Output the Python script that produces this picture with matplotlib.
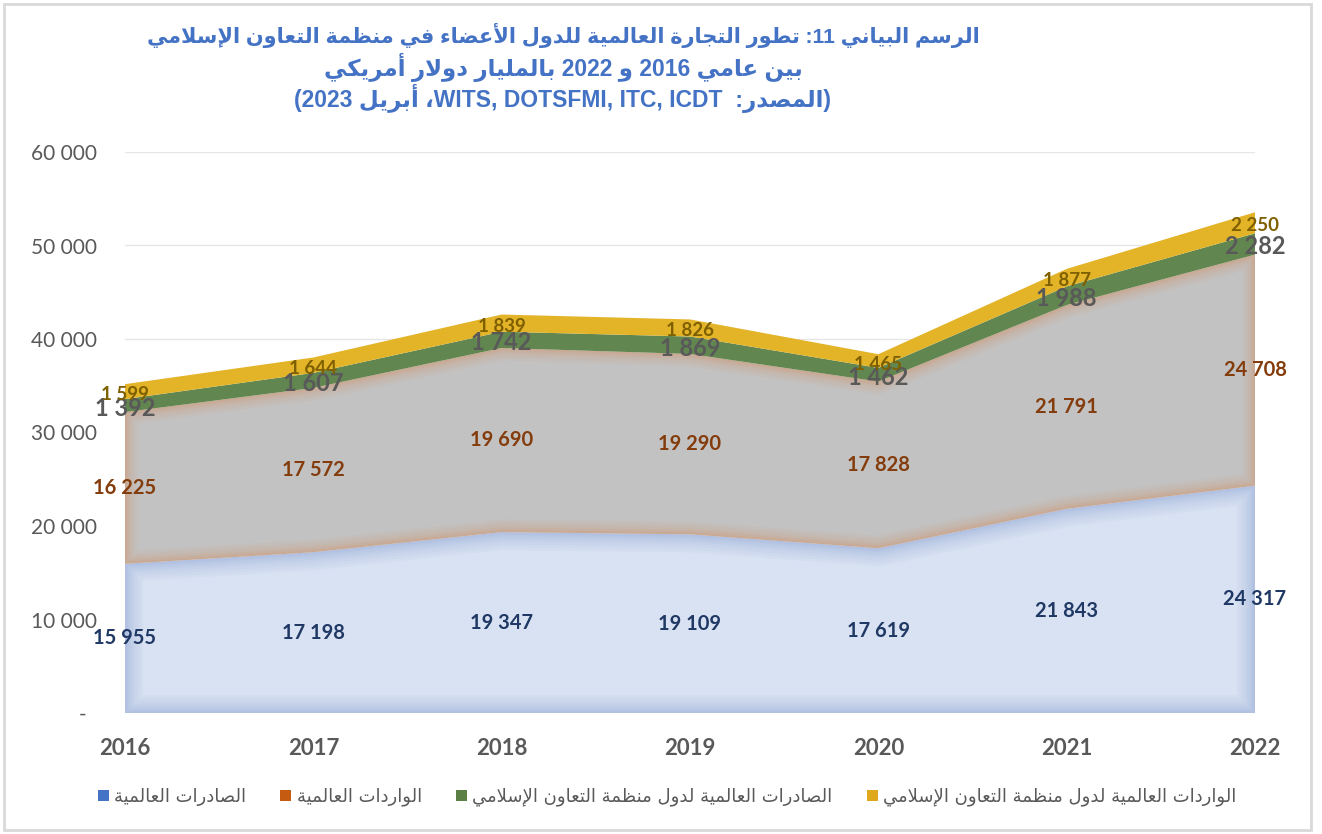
import matplotlib
matplotlib.use("Agg")
import matplotlib.pyplot as plt
from matplotlib.patches import Patch, Rectangle
from matplotlib.transforms import offset_copy
import numpy as np

# ---------------- data ----------------
years = [2016, 2017, 2018, 2019, 2020, 2021, 2022]
world_exports = [15955, 17198, 19347, 19109, 17619, 21843, 24317]
world_imports = [16225, 17572, 19690, 19290, 17828, 21791, 24708]
oic_exports = [1392, 1607, 1742, 1869, 1462, 1988, 2282]
oic_imports = [1599, 1644, 1839, 1826, 1465, 1877, 2250]
y_ticks = [0, 10000, 20000, 30000, 40000, 50000, 60000]

series_names = ["الصادرات العالمية", "الواردات العالمية",
                "الصادرات العالمية لدول منظمة التعاون الإسلامي",
                "الواردات العالمية لدول منظمة التعاون الإسلامي"]
title_lines = ["الرسم البياني 11: تطور التجارة العالمية للدول الأعضاء في منظمة التعاون الإسلامي",
               "بين عامي 2016 و 2022 بالمليار دولار أمريكي",
               "(المصدر:  WITS, DOTSFMI, ITC, ICDT، أبريل 2023)"]

# ---------------- minimal Arabic shaping + bidi ----------------
_D, _R, _U = "D", "R", "U"
FORMS = {
    "\u0621": (0xFE80, _U), "\u0622": (0xFE81, _R), "\u0623": (0xFE83, _R),
    "\u0624": (0xFE85, _R), "\u0625": (0xFE87, _R), "\u0626": (0xFE89, _D),
    "\u0627": (0xFE8D, _R), "\u0628": (0xFE8F, _D), "\u0629": (0xFE93, _R),
    "\u062A": (0xFE95, _D), "\u062B": (0xFE99, _D), "\u062C": (0xFE9D, _D),
    "\u062D": (0xFEA1, _D), "\u062E": (0xFEA5, _D), "\u062F": (0xFEA9, _R),
    "\u0630": (0xFEAB, _R), "\u0631": (0xFEAD, _R), "\u0632": (0xFEAF, _R),
    "\u0633": (0xFEB1, _D), "\u0634": (0xFEB5, _D), "\u0635": (0xFEB9, _D),
    "\u0636": (0xFEBD, _D), "\u0637": (0xFEC1, _D), "\u0638": (0xFEC5, _D),
    "\u0639": (0xFEC9, _D), "\u063A": (0xFECD, _D), "\u0641": (0xFED1, _D),
    "\u0642": (0xFED5, _D), "\u0643": (0xFED9, _D), "\u0644": (0xFEDD, _D),
    "\u0645": (0xFEE1, _D), "\u0646": (0xFEE5, _D), "\u0647": (0xFEE9, _D),
    "\u0648": (0xFEED, _R), "\u0649": (0xFEEF, _R), "\u064A": (0xFEF1, _D),
}
LAMALEF = {"\u0622": 0xFEF5, "\u0623": 0xFEF7, "\u0625": 0xFEF9, "\u0627": 0xFEFB}


def shape(s):
    out = []
    i, n = 0, len(s)
    prev_d = False
    while i < n:
        c = s[i]
        if c not in FORMS:
            out.append(c)
            prev_d = False
            i += 1
            continue
        if c == "\u0644" and i + 1 < n and s[i + 1] in LAMALEF:
            b = LAMALEF[s[i + 1]]
            out.append(chr(b + 1 if prev_d else b))
            prev_d = False
            i += 2
            continue
        b, t = FORMS[c]
        nxt = s[i + 1] if i + 1 < n else None
        next_j = t == _D and nxt in FORMS and FORMS[nxt][1] in (_D, _R)
        if t == _U:
            f = b
        elif t == _R:
            f = b + 1 if prev_d else b
        else:
            if prev_d and next_j:
                f = b + 3
            elif prev_d:
                f = b + 1
            elif next_j:
                f = b + 2
            else:
                f = b
        out.append(chr(f))
        prev_d = t == _D
        i += 1
    return "".join(out)


def visual(s):
    t = shape(s)
    cls = []
    for ch in t:
        if "\u0600" <= ch <= "\u06FF" or "\uFB50" <= ch <= "\uFEFF":
            cls.append("R")
        elif ch.isascii() and ch.isalnum():
            cls.append("L")
        else:
            cls.append("N")
    n = len(cls)
    i = 0
    while i < n:
        if cls[i] == "N":
            j = i
            while j < n and cls[j] == "N":
                j += 1
            before = cls[i - 1] if i > 0 else "R"
            after = cls[j] if j < n else "R"
            r = "L" if (before == "L" and after == "L") else "R"
            for k in range(i, j):
                cls[k] = r
            i = j
        else:
            i += 1
    runs = []
    for ch, c in zip(t, cls):
        if runs and runs[-1][0] == c:
            runs[-1][1].append(ch)
        else:
            runs.append([c, [ch]])
    mirror = {"(": ")", ")": "("}
    res = []
    for c, chars in reversed(runs):
        if c == "R":
            res.append("".join(mirror.get(x, x) for x in reversed(chars)))
        else:
            res.append("".join(chars))
    return "".join(res)


def fmt(v):
    return f"{v:,}".replace(",", " ")


# ---------------- figure ----------------
W, H = 1322, 834
fig = plt.figure(figsize=(W / 100, H / 100), dpi=100)
fig.patch.set_facecolor("white")

left_px, right_px, bottom_px, top_px = 125, 1255, 713, 152
ax = fig.add_axes([left_px / W, 1 - bottom_px / H,
                   (right_px - left_px) / W, (bottom_px - top_px) / H])
ax.set_xlim(years[0], years[-1])
ax.set_ylim(0, 60000)
for sp in ax.spines.values():
    sp.set_visible(False)
ax.set_facecolor("none")

for v in y_ticks[1:]:
    ax.axhline(v, color="#e6e6e6", lw=1.0, zorder=0)

x = np.array(years, dtype=float)
s0 = np.zeros(len(years))
s1 = s0 + np.array(world_exports)
s2 = s1 + np.array(world_imports)
s3 = s2 + np.array(oic_exports)
s4 = s3 + np.array(oic_imports)


def soft_fill(y1, y2, face, edge, z, glows):
    poly = ax.fill_between(x, y1, y2, facecolor=face, lw=0, zorder=z)
    path = poly.get_paths()[0]
    for w, a in glows:
        g = ax.fill_between(x, y1, y2, facecolor="none", edgecolor=edge,
                            lw=w, alpha=a, zorder=z + 0.1, joinstyle="miter")
        g.set_clip_path(path, ax.transData)
    return poly


blue_glow = [(w, 0.035) for w in (26, 22, 18, 14, 11, 8, 5, 3)]
gray_glow = [(w, 0.05) for w in (18, 14, 10, 7, 5, 3, 2)]
soft_fill(s0, s1, "#d9e2f3", "#4a6fb5", 1, blue_glow)
soft_fill(s1, s2, "#c2c2c2", "#e07b35", 2, gray_glow)
ax.fill_between(x, s2, s3, facecolor="#628650", lw=0, zorder=3)
ax.fill_between(x, s3, s4, facecolor="#e3b328", lw=0, zorder=4)

lab_font = ["Lato", "DejaVu Sans"]
down3 = offset_copy(ax.transData, fig=fig, x=0, y=-3, units="dots")
for i, yr in enumerate(years):
    ax.text(yr, (s0[i] + s1[i]) / 2, fmt(world_exports[i]), ha="center", va="center",
            fontsize=14.5, fontweight="bold", color="#1f3864", family=lab_font, zorder=10)
    ax.text(yr, (s1[i] + s2[i]) / 2, fmt(world_imports[i]), ha="center", va="center",
            fontsize=14.5, fontweight="bold", color="#843c0c", family=lab_font, zorder=10)
    ax.text(yr, (s2[i] + s3[i]) / 2, fmt(oic_exports[i]), ha="center", va="center",
            fontsize=17, fontweight="bold", color="#595959", family=lab_font, zorder=10,
            transform=down3)
    ax.text(yr, (s3[i] + s4[i]) / 2, fmt(oic_imports[i]), ha="center", va="center",
            fontsize=13.5, fontweight="bold", color="#7f6000", family=lab_font, zorder=10,
            transform=down3)

ax.set_yticks(y_ticks)
ax.set_yticklabels(["-  "] + [fmt(v) for v in y_ticks[1:]])
ax.set_xticks(years)
ax.set_xticklabels([str(y) for y in years])
ax.tick_params(axis="y", length=0, pad=20, labelsize=15, labelcolor="#595959")
ax.tick_params(axis="x", length=0, pad=18, labelsize=16, labelcolor="#595959")
for lb in ax.get_yticklabels():
    lb.set_family(lab_font)
for lb in ax.get_xticklabels():
    lb.set_family(lab_font)
    lb.set_fontweight("bold")

# title
title_font = ["Liberation Sans", "DejaVu Sans"]
ty = [35, 67, 98]
tsz = [15, 16.5, 16.5]
for line, yy, sz in zip(title_lines, ty, tsz):
    fig.text(563 / W, 1 - yy / H, visual(line), ha="center", va="center",
             fontsize=sz, fontweight="bold", color="#4472c4", family=title_font)

# legend
colors = ["#4472c4", "#c55a11", "#5b7f45", "#e0a91c"]
handles = [Patch(facecolor=c, edgecolor="none") for c in colors]
leg = fig.legend(handles, [visual(s) for s in series_names], loc="center",
                 bbox_to_anchor=(667 / W, 1 - 797 / H), ncol=4, frameon=False,
                 handlelength=0.6, handleheight=0.6, handletextpad=0.3,
                 columnspacing=1.9, prop={"family": ["DejaVu Sans"], "size": 13})
for t in leg.get_texts():
    t.set_color("#595959")

# outer border
fig.add_artist(Rectangle((4 / W, 4 / H), (1311 - 4) / W, (830 - 4) / H,
                         transform=fig.transFigure, fill=False,
                         edgecolor="#d9d9d9", lw=2))

fig.savefig("out.png", dpi=100)
